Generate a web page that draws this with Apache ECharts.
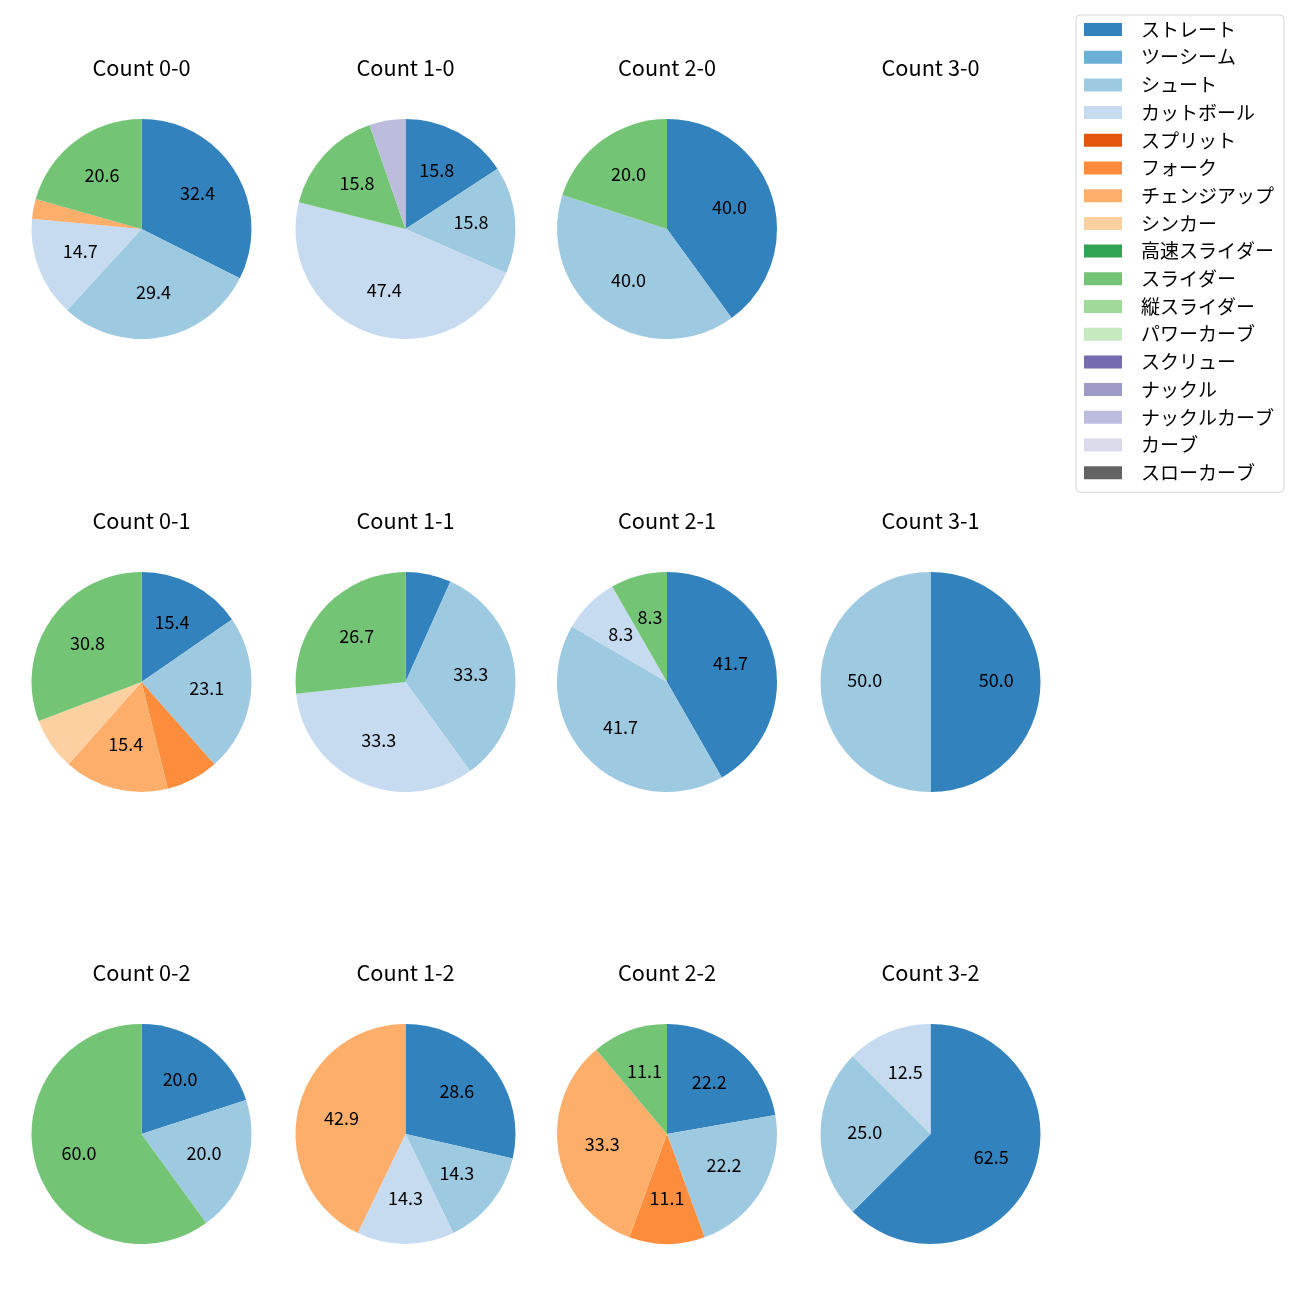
<!DOCTYPE html>
<html><head><meta charset="utf-8">
<script src="https://cdn.jsdelivr.net/npm/echarts@6/dist/echarts.min.js"></script>
<style>html,body{margin:0;padding:0;background:#fff}#c{width:1300px;height:1300px}</style>
</head><body><div id="c"></div>
<script>
const pitchTypes = ['ストレート','ツーシーム','シュート','カットボール','スプリット','フォーク','チェンジアップ','シンカー','高速スライダー','スライダー','縦スライダー','パワーカーブ','スクリュー','ナックル','ナックルカーブ','カーブ','スローカーブ'];
const pitchColors = ['#3182bd','#6baed6','#9ecae1','#c6dbef','#e6550d','#fd8d3c','#fdae6b','#fdd0a2','#31a354','#74c476','#a1d99b','#c7e9c0','#756bb1','#9e9ac8','#bcbddc','#dadaeb','#636363'];
const countLabels = ['0-0','1-0','2-0','3-0','0-1','1-1','2-1','3-1','0-2','1-2','2-2','3-2'];
// percentages, in pitchTypes order
const count00 = [32.4,0,29.4,14.7,0,0,2.9,0,0,20.6,0,0,0,0,0,0,0];
const count10 = [15.8,0,15.8,47.4,0,0,0,0,0,15.8,0,0,0,0,5.3,0,0];
const count20 = [40.0,0,40.0,0,0,0,0,0,0,20.0,0,0,0,0,0,0,0];
const count30 = [0,0,0,0,0,0,0,0,0,0,0,0,0,0,0,0,0];
const count01 = [15.4,0,23.1,0,0,7.7,15.4,7.7,0,30.8,0,0,0,0,0,0,0];
const count11 = [6.7,0,33.3,33.3,0,0,0,0,0,26.7,0,0,0,0,0,0,0];
const count21 = [41.7,0,41.7,8.3,0,0,0,0,0,8.3,0,0,0,0,0,0,0];
const count31 = [50.0,0,50.0,0,0,0,0,0,0,0,0,0,0,0,0,0,0];
const count02 = [20.0,0,20.0,0,0,0,0,0,0,60.0,0,0,0,0,0,0,0];
const count12 = [28.6,0,14.3,14.3,0,0,42.9,0,0,0,0,0,0,0,0,0,0];
const count22 = [22.2,0,22.2,0,0,11.1,33.3,0,0,11.1,0,0,0,0,0,0,0];
const count32 = [62.5,0,25.0,12.5,0,0,0,0,0,0,0,0,0,0,0,0,0];
const countValues = [count00,count10,count20,count30,count01,count11,count21,count31,count02,count12,count22,count32];

const FONT = '"Noto Sans CJK JP", "Noto Sans", sans-serif';
const colX = [141.5, 405.5, 667, 930.5];
const rowY = [229, 682, 1134];
const R = 110;

const series = [{
  type: 'pie', name: 'legend', radius: [0, 0], center: [-200, -200], silent: true,
  stillShowZeroSum: false, label: {show: false}, labelLine: {show: false}, animation: false,
  data: pitchTypes.map((n, i) => ({name: n, value: 0, itemStyle: {color: pitchColors[i]}}))
}];
const titles = [];
countLabels.forEach((lab, k) => {
  const cx = colX[k % 4], cy = rowY[Math.floor(k / 4)];
  titles.push({
    text: 'Count ' + lab, left: cx, top: cy - 160 - 12, textAlign: 'center', padding: 0,
    textStyle: {fontSize: 21.7, fontWeight: 'normal', color: '#000', fontFamily: FONT}
  });
  const vals = countValues[k];
  const data = [];
  vals.forEach((v, i) => { if (v > 0) data.push({name: pitchTypes[i], value: v, itemStyle: {color: pitchColors[i]}}); });
  if (!data.length) return;
  series.push({
    type: 'pie', center: [cx, cy], radius: [0, R], startAngle: 90, clockwise: true, silent: true,
    animation: false, itemStyle: {borderWidth: 0}, label: {show: false}, labelLine: {show: false}, data
  });
  series.push({
    type: 'pie', center: [cx, cy], radius: [R * 0.14, R], startAngle: 90, clockwise: true, silent: true,
    animation: false, itemStyle: {color: 'transparent', borderWidth: 0}, labelLine: {show: false},
    label: {show: true, position: 'inside', rotate: 0, offset: [0, -1.5], color: '#000', fontSize: 18, fontFamily: FONT,
      formatter: p => p.value >= 8 ? p.value.toFixed(1) : ''},
    data: data.map(d => ({name: d.name, value: d.value}))
  });
});

const chart = echarts.init(document.getElementById('c'), null, {renderer: 'canvas'});
chart.setOption({
  backgroundColor: '#fff',
  animation: false,
  title: titles,
  legend: {
    orient: 'vertical', left: 1076, top: 15, data: pitchTypes, icon: 'rect',
    itemWidth: 38, itemHeight: 13, itemGap: 8.7, selectedMode: false,
    padding: [5, 10, 10, 8], backgroundColor: '#fff', borderColor: '#d5d5d5', borderWidth: 1, borderRadius: 4,
    textStyle: {fontSize: 19, lineHeight: 19, color: '#000', fontFamily: FONT, padding: [0, 0, 0, 14]}
  },
  series
});
</script></body></html>
